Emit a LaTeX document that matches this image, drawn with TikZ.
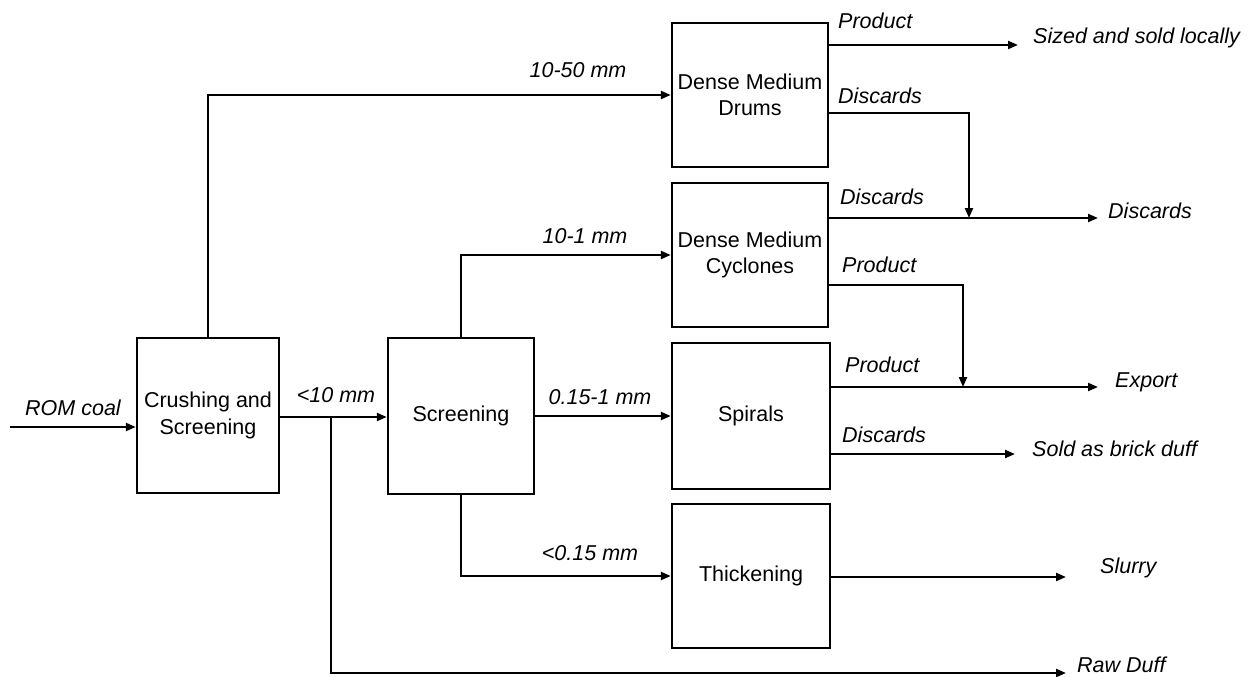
\documentclass[tikz,border=0pt]{standalone}
\usepackage{fontspec}
\setmainfont{Liberation Sans}
\usetikzlibrary{arrows.meta}
\tikzset{
  box/.style={draw, line width=2.4pt, inner sep=0pt, align=center,
    font=\fontsize{21.5}{26.5}\selectfont},
  lbl/.style={inner sep=0pt, font=\fontsize{21.5}{26}\selectfont\itshape},
  flow/.style={line width=2.2pt, -{Triangle[length=10pt,width=8pt]}},
  plain/.style={line width=2.2pt}
}
\begin{document}
\begin{tikzpicture}[x=1pt,y=-1pt]
\useasboundingbox (0,0) rectangle (1259,677);
% boxes
\node[box, minimum width=142pt, minimum height=155pt] (crush) at (208,415.5) {Crushing and\\Screening};
\node[box, minimum width=146pt, minimum height=156pt] (screen) at (461,416) {Screening};
\node[box, minimum width=156pt, minimum height=144pt] (dmd) at (750,95) {Dense Medium\\Drums};
\node[box, minimum width=156pt, minimum height=144pt] (dmc) at (750,255) {Dense Medium\\Cyclones};
\node[box, minimum width=158pt, minimum height=146pt] (spir) at (751,416) {Spirals};
\node[box, minimum width=158pt, minimum height=144pt] (thick) at (751,576) {Thickening};
% free ends
\coordinate (rom) at (10,427);
\coordinate (b1) at (331,417);
\coordinate (sized) at (1018,45);
\coordinate (dd) at (969,113);
\coordinate (dcj) at (969,218);
\coordinate (disc) at (1098,218);
\coordinate (pj) at (963,285);
\coordinate (pjd) at (963,387);
\coordinate (export) at (1098,387);
\coordinate (brick) at (1015,454);
\coordinate (slurry) at (1066,577);
\coordinate (raw) at (1066,673);
% connectors
\draw[flow] (rom) -- (rom -| crush.west);
\draw[flow] (crush.east |- b1) -- (screen.west |- b1);
\draw[flow] (b1) |- (raw);
\draw[flow] (crush.north) |- (dmd.west);
\draw[flow] (screen.north) |- (dmc.west);
\draw[flow] (screen.east) -- (spir.west);
\draw[flow] (screen.south) |- (thick.west);
\draw[flow] (dmd.east |- sized) -- (sized);
\draw[flow] (dmd.east |- dd) -- (dd) -- (dcj);
\draw[flow] (dmc.east |- disc) -- (disc);
\draw[flow] (dmc.east |- pj) -- (pj) -- (pjd);
\draw[flow] (spir.east |- export) -- (export);
\draw[flow] (spir.east |- brick) -- (brick);
\draw[flow] (thick.east |- slurry) -- (slurry);
% labels
\node[lbl] (l1) at (73,408) {ROM coal};
\node[lbl] (l2) at (336,395) {<10 mm};
\node[lbl] (l3) at (578,70) {10-50 mm};
\node[lbl] (l4) at (585,236) {10-1 mm};
\node[lbl] (l5) at (600,397) {0.15-1 mm};
\node[lbl] (l6) at (590,553) {<0.15 mm};
\node[lbl, anchor=west] (l7) at (838,21) {Product};
\node[lbl, anchor=west] (l8) at (838,96) {Discards};
\node[lbl, anchor=west] (l9) at (840,197) {Discards};
\node[lbl, anchor=west] (l10) at (842,265) {Product};
\node[lbl, anchor=west] (l11) at (845,365) {Product};
\node[lbl, anchor=west] (l12) at (842,435) {Discards};
\node[lbl, anchor=west] (o1) at (1033,38) {Sized and sold locally};
\node[lbl, anchor=west] (o2) at (1108,211) {Discards};
\node[lbl, anchor=west] (o3) at (1115,382) {Export};
\node[lbl, anchor=west] (o4) at (1032,449) {Sold as brick duff};
\node[lbl, anchor=west] (o5) at (1100,568) {Slurry};
\node[lbl, anchor=west] (o6) at (1077,665) {Raw Duff};
\end{tikzpicture}
\end{document}
